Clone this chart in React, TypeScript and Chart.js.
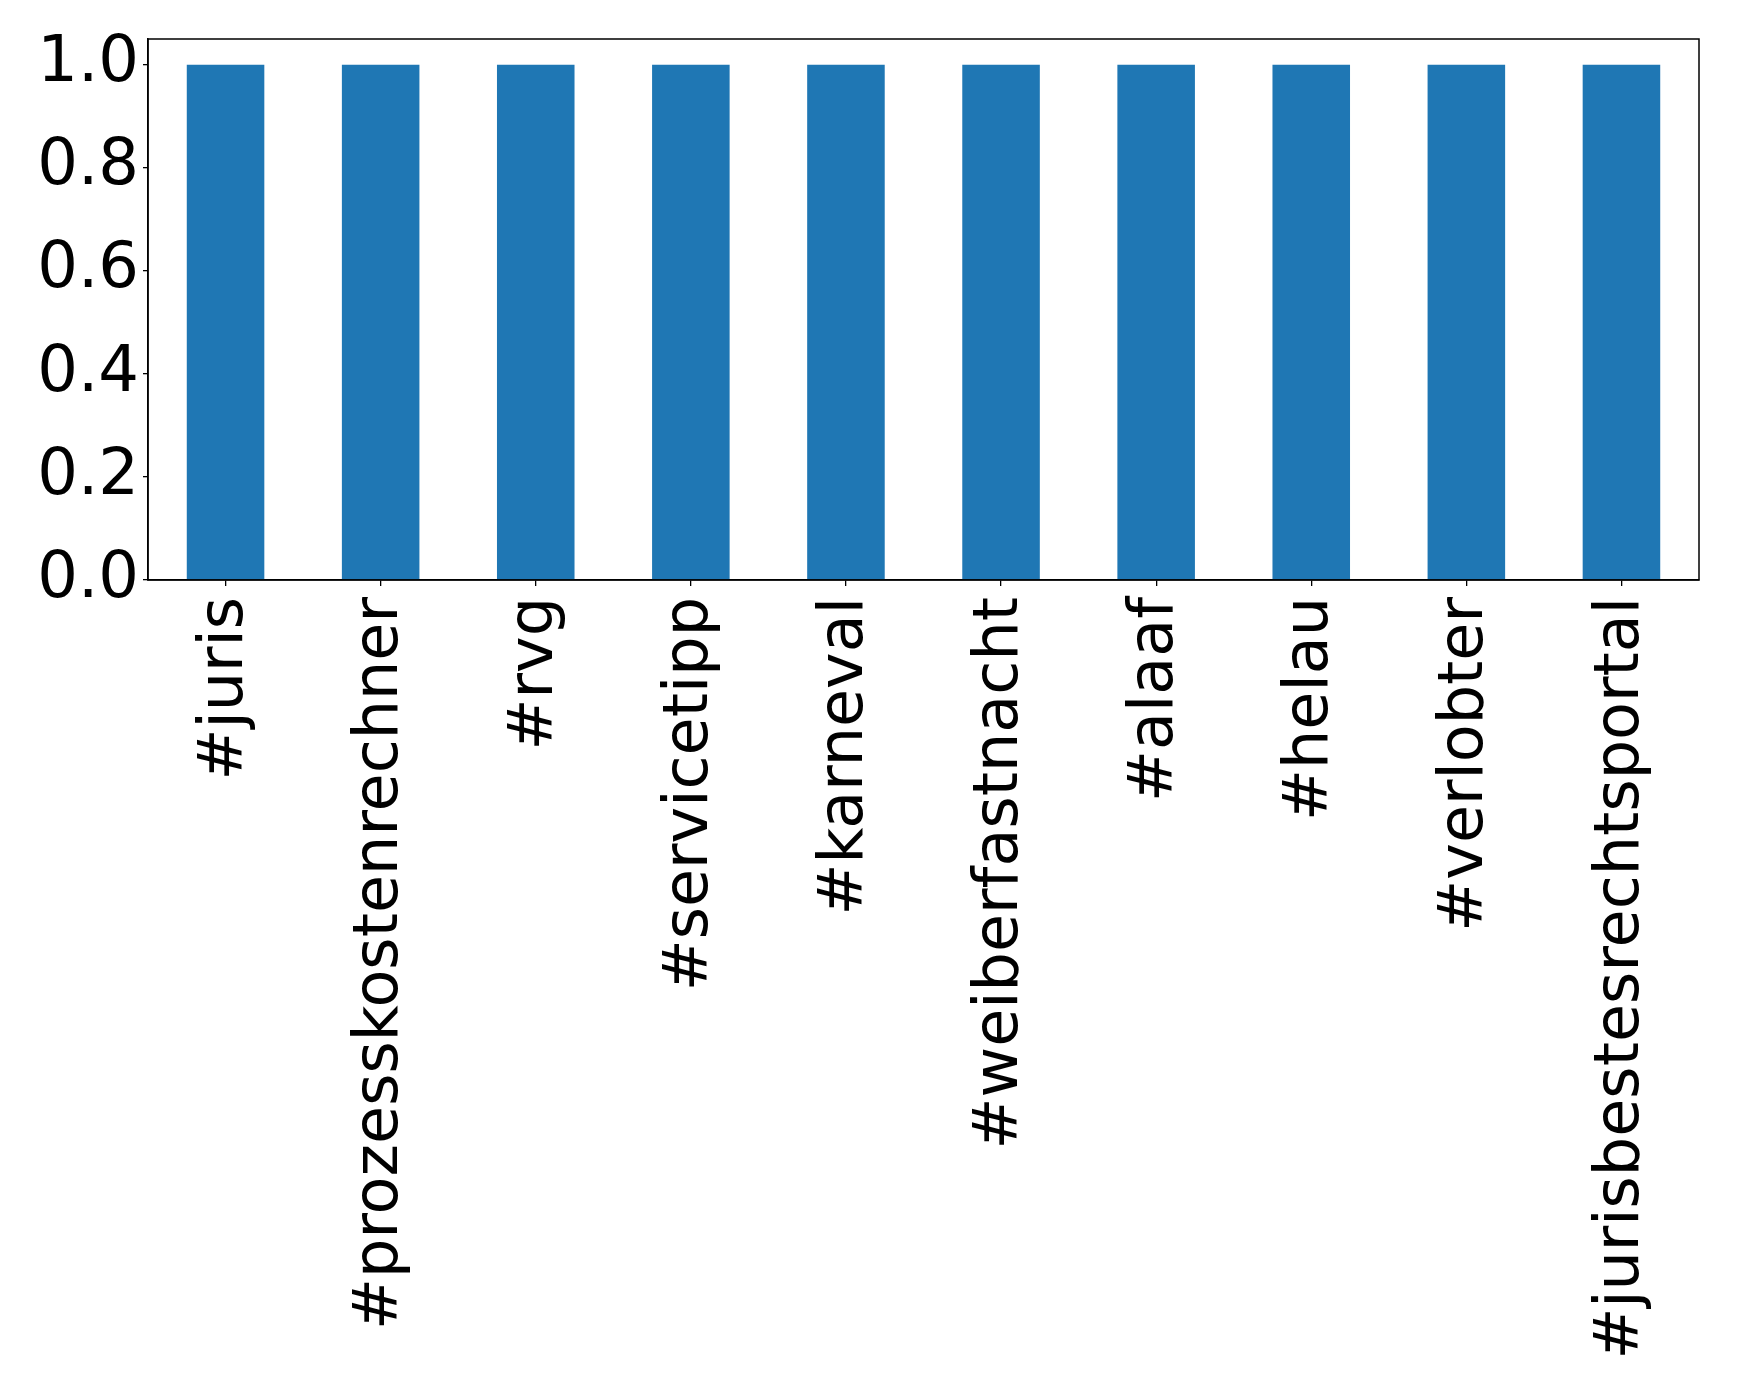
import React, { useEffect, useRef } from "react";
import { Chart, registerables } from "chart.js";

Chart.register(...registerables);

const categories = [
  "#juris",
  "#prozesskostenrechner",
  "#rvg",
  "#servicetipp",
  "#karneval",
  "#weiberfastnacht",
  "#alaaf",
  "#helau",
  "#verlobter",
  "#jurisbestesrechtsportal",
];
const values = [1, 1, 1, 1, 1, 1, 1, 1, 1, 1];
const yTicks = [0, 0.2, 0.4, 0.6, 0.8, 1.0];

const W = 1739;
const H = 1397;
const FONT = "'DejaVu Sans', sans-serif";

const framePlugin = {
  id: "frame",
  afterDraw(chart: any) {
    const { ctx, chartArea } = chart;
    ctx.save();
    ctx.strokeStyle = "#000";
    ctx.lineWidth = 1.5;
    ctx.strokeRect(
      chartArea.left,
      chartArea.top,
      chartArea.right - chartArea.left,
      chartArea.bottom - chartArea.top
    );
    ctx.restore();
  },
};

export default function App() {
  const ref = useRef<HTMLCanvasElement | null>(null);
  useEffect(() => {
    if (!ref.current) return;
    const chart = new Chart(ref.current, {
      type: "bar",
      data: {
        labels: categories,
        datasets: [
          {
            data: values,
            backgroundColor: "#1f77b4",
            borderWidth: 0,
            categoryPercentage: 1,
            barPercentage: 0.5,
          },
        ],
      },
      options: {
        animation: false,
        responsive: false,
        devicePixelRatio: 1,
        layout: { padding: { top: 39, right: 40, left: 0, bottom: 0 } },
        plugins: {
          legend: { display: false },
          tooltip: { enabled: false },
        },
        scales: {
          x: {
            offset: true,
            grid: {
              offset: false,
              drawOnChartArea: false,
              drawTicks: true,
              tickLength: 6,
              color: "#000",
              lineWidth: 1.3,
            },
            border: { display: true, color: "#000", width: 1.5 },
            ticks: {
              autoSkip: false,
              maxRotation: 90,
              minRotation: 90,
              padding: 11,
              color: "#000",
              font: { family: FONT, size: 62 },
            },
            afterFit(scale: any) {
              scale.height = H - 580;
            },
          },
          y: {
            min: 0,
            max: 1.05,
            grid: {
              drawOnChartArea: false,
              drawTicks: true,
              tickLength: 5,
              color: "#000",
              lineWidth: 1.3,
            },
            border: { display: true, color: "#000", width: 1.5 },
            ticks: {
              includeBounds: false,
              stepSize: 0.2,
              padding: 4,
              color: "#000",
              font: { family: FONT, size: 64, lineHeight: 1 },
              callback: (v: any) => Number(v).toFixed(1),
            },
            afterBuildTicks(scale: any) {
              scale.ticks = yTicks.map((v) => ({ value: v }));
            },
            afterFit(scale: any) {
              scale.width = 148;
            },
          },
        },
      },
      plugins: [framePlugin],
    });
    return () => chart.destroy();
  }, []);
  return (
    <div
      style={{
        position: "fixed",
        left: 0,
        top: 0,
        width: W,
        height: H,
        background: "#fff",
      }}
    >
      <canvas ref={ref} width={W} height={H} style={{ width: W, height: H }} />
    </div>
  );
}
